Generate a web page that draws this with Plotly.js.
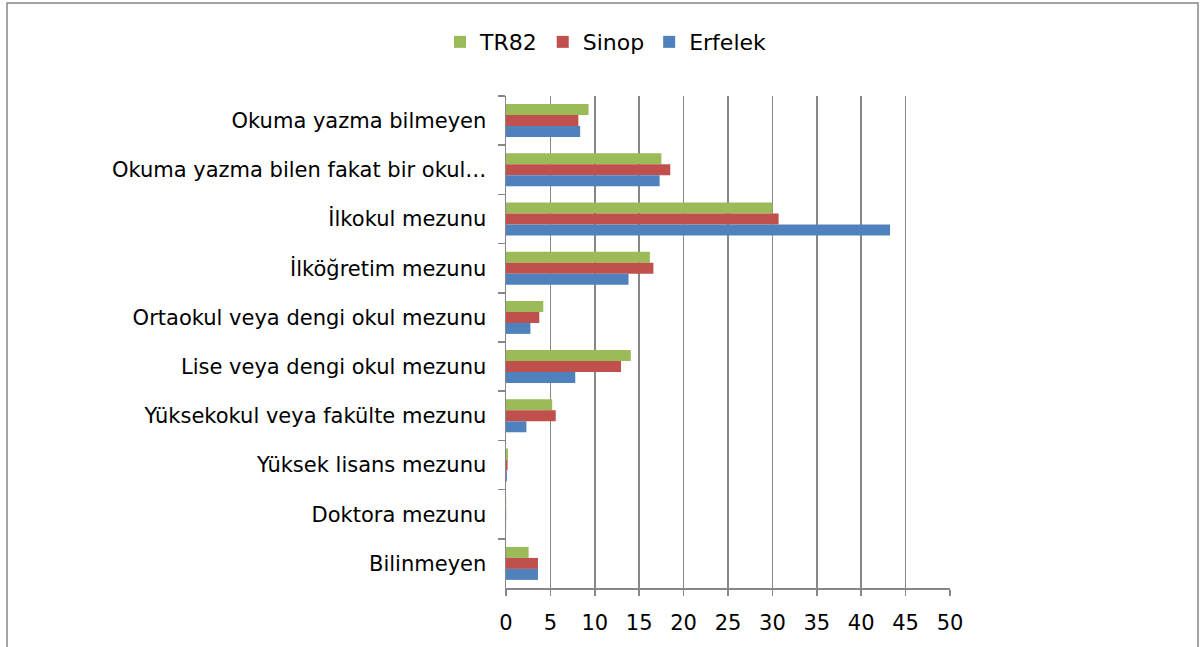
<!DOCTYPE html>
<html>
<head>
<meta charset="utf-8">
<script src="https://cdn.plot.ly/plotly-3.0.1.min.js"></script>
<style>html,body{margin:0;padding:0;background:#fff;}#chart{width:1200px;height:647px;}</style>
</head>
<body>
<div id="chart"></div>
<script>
const categories = [
  "Okuma yazma bilmeyen",
  "Okuma yazma bilen fakat bir okul…",
  "İlkokul mezunu",
  "İlköğretim mezunu",
  "Ortaokul veya dengi okul mezunu",
  "Lise veya dengi okul mezunu",
  "Yüksekokul veya fakülte mezunu",
  "Yüksek lisans mezunu",
  "Doktora mezunu",
  "Bilinmeyen"
];
const seriesNames = ["TR82", "Sinop", "Erfelek"];
const tr82 =    [9.3, 17.5, 30.0, 16.2, 4.2, 14.05, 5.2, 0.22, 0.02, 2.55];
const sinop =   [8.15, 18.5, 30.7, 16.6, 3.75, 12.95, 5.6, 0.18, 0.02, 3.6];
const erfelek = [8.35, 17.3, 43.25, 13.8, 2.75, 7.8, 2.3, 0.1, 0.01, 3.6];
const xTicks = [0, 5, 10, 15, 20, 25, 30, 35, 40, 45, 50];

const colors = ["#9BBB59", "#C0504D", "#4F81BD"];
const values = [tr82, sinop, erfelek];

const traces = values.map((v, i) => ({
  type: "bar",
  orientation: "h",
  name: seriesNames[i],
  y: categories,
  x: v,
  marker: {color: colors[i], line: {width: 0}},
  hoverinfo: "x+y+name"
}));

const font = "DejaVu Sans, Verdana, sans-serif";
const L = 506, R = 950;
const W = R - L;
const layout = {
  width: 1200, height: 647,
  margin: {l: L, r: 1200 - R, t: 96, b: 59},
  paper_bgcolor: "#ffffff",
  plot_bgcolor: "#ffffff",
  font: {family: font, size: 21, color: "#000"},
  barmode: "group",
  bargap: 0.33,
  bargroupgap: 0,
  showlegend: true,
  legend: {
    orientation: "h",
    xref: "container", yref: "container",
    x: 0.505, xanchor: "center",
    y: 0.935, yanchor: "middle",
    font: {family: font, size: 22, color: "#000"},
    traceorder: "normal",
    itemwidth: 30,
    tracegroupgap: 0
  },
  xaxis: {
    range: [0, 50],
    tickvals: xTicks,
    ticktext: xTicks.map(String),
    showgrid: true,
    gridcolor: "#878787",
    gridwidth: 1.5,
    zeroline: false,
    showline: true,
    linecolor: "#878787",
    linewidth: 1.5,
    ticks: "outside",
    ticklen: 6,
    tickcolor: "#878787",
    tickwidth: 1.5,
    ticklabelstandoff: 9,
    tickfont: {family: font, size: 21, color: "#000"},
    fixedrange: true
  },
  yaxis: {
    type: "category",
    autorange: "reversed",
    showgrid: false,
    showline: true,
    linecolor: "#878787",
    linewidth: 1.5,
    ticks: "outside",
    tickson: "boundaries",
    ticklen: 7,
    tickcolor: "#878787",
    tickwidth: 1.5,
    ticklabelstandoff: 14,
    tickfont: {family: font, size: 21, color: "#000"},
    fixedrange: true
  },
  shapes: [{
    type: "rect",
    xref: "paper", yref: "paper",
    x0: (7 - L) / W, x1: (1198 - L) / W,
    y0: -0.3, y1: 1 + (96 - 3) / (647 - 96 - 59),
    line: {color: "#878787", width: 1.5},
    fillcolor: "rgba(0,0,0,0)",
    layer: "below"
  }]
};

Plotly.newPlot("chart", traces, layout, {displayModeBar: false, staticPlot: true});
</script>
</body>
</html>
